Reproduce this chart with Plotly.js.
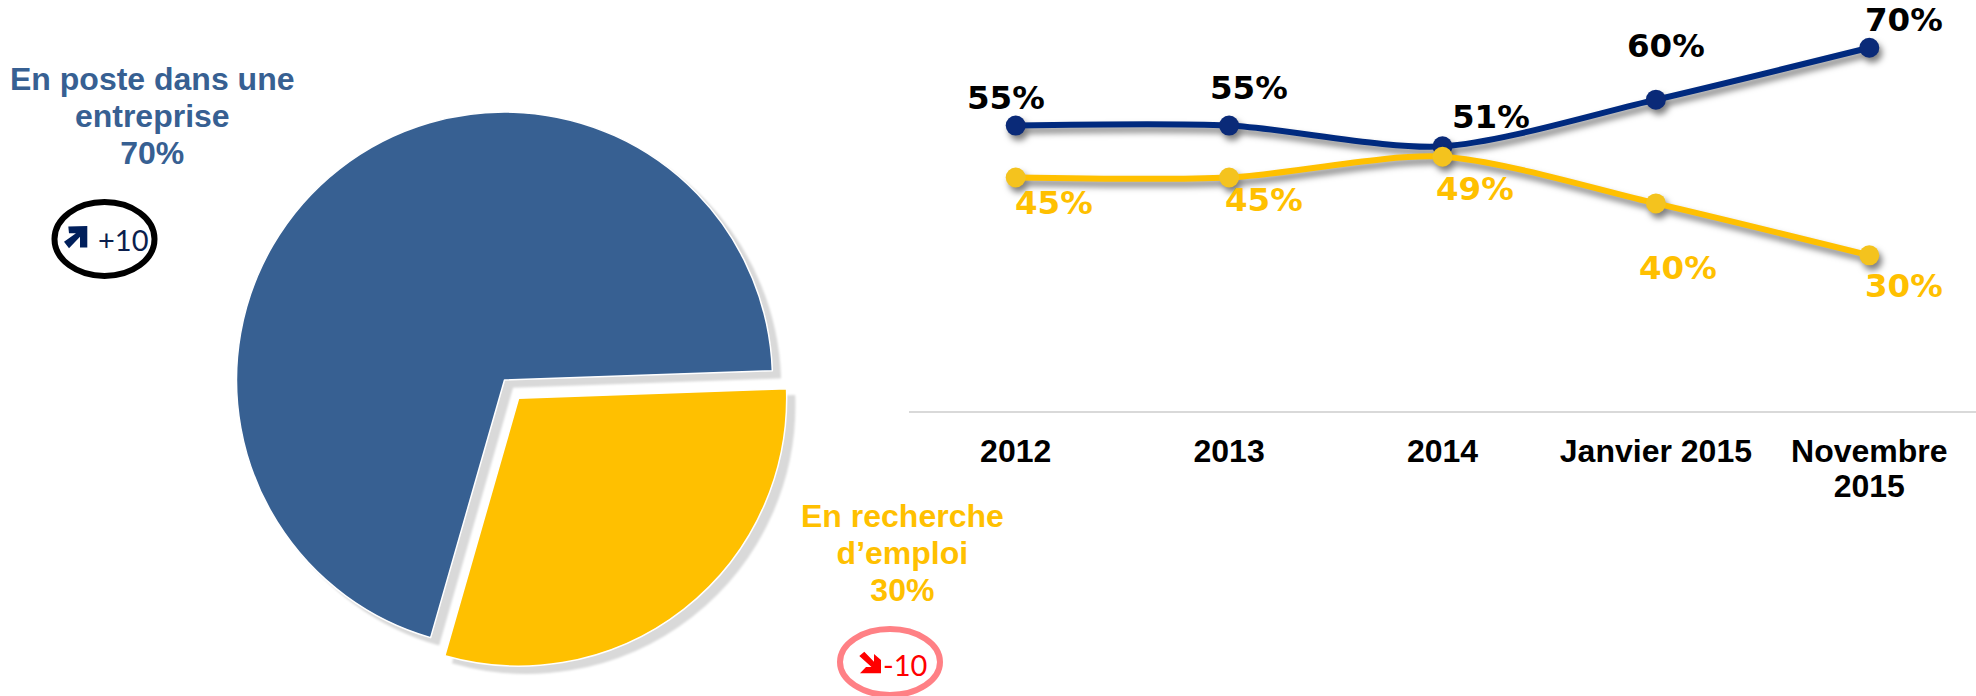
<!DOCTYPE html>
<html><head><meta charset="utf-8">
<script src="https://cdn.plot.ly/plotly-3.0.1.min.js"></script>
<style>html,body{margin:0;padding:0;background:#fff}#chart{width:1976px;height:696px}</style>
</head><body><div id="chart"></div>
<script>
// ----- data -----
const pieLabels = ["En poste dans une entreprise", "En recherche d’emploi"];
const pieValues = [70, 30];
const categories = ["2012", "2013", "2014", "Janvier 2015", "Novembre<br>2015"];
const enPoste = [55, 55, 51, 60, 70];
const enRecherche = [45, 45, 49, 40, 30];

// ----- page geometry -----
const W = 1976, H = 696;
const px = x => x / W;
const py = y => 1 - y / H;
const pieCx = 504.5, pieCy = 380, pieR = 268, piePull = 0.086;
const pieHalf = pieR * (1 + piePull);
const blue = "#376092", gold = "#FFC000", navy = "#002A7F";

const blueShift = [[-10,-28],[20,-38],[48,-29],[10,-54],[35,-28]];
const goldShift = [[38,26],[35,23],[32,32],[22,65],[35,31]];

function valueLabels(vals, shifts, color) {
  return vals.map((v, i) => ({
    xref: "x", yref: "y", x: i, y: v, text: v + "%", showarrow: false,
    xanchor: "center", yanchor: "middle",
    xshift: shifts[i][0], yshift: -shifts[i][1],
    font: {family: "DejaVu Sans", size: 32.5, color: color, weight: 700}
  }));
}
function pageText(x, y, text, color, size, family, weight) {
  return {xref: "paper", yref: "paper", x: px(x), y: py(y), text, showarrow: false,
    xanchor: "center", yanchor: "middle", align: "center",
    font: {family, size, color, weight}};
}
function oval(cx, cy, rx, ry, color, width) {
  return {type: "circle", xref: "paper", yref: "paper",
    x0: px(cx - rx), x1: px(cx + rx), y0: py(cy + ry), y1: py(cy - ry),
    line: {color, width}, fillcolor: "rgba(0,0,0,0)"};
}
function poly(points, color) {
  const d = points.map((p, i) => (i ? "L" : "M") + px(p[0]) + "," + py(p[1])).join(" ") + " Z";
  return {type: "path", xref: "paper", yref: "paper", path: d, fillcolor: color, line: {width: 0}};
}
const upArrow = [[68.3,226.5],[87.3,226],[87.3,247.5],[80,247.5],[80,236.7],[69,248.3],[64,241.7],[76,233.3],[69,233.3]];
const downArrow = [[859.3,656],[864.3,651.7],[874,661.7],[874,654],[881,660],[881,673.3],[860,673.3],[866,667],[871.5,667]];

const traces = [
  {type: "pie", labels: pieLabels, values: pieValues, sort: false, direction: "clockwise",
   rotation: 196, pull: [0, piePull], textinfo: "none", showlegend: false, hoverinfo: "label+percent",
   marker: {colors: [blue, gold], line: {color: "#ffffff", width: 1.5}},
   domain: {x: [px(pieCx - pieHalf), px(pieCx + pieHalf)], y: [py(pieCy + pieHalf), py(pieCy - pieHalf)]}},
  {type: "scatter", mode: "lines+markers", x: [0,1,2,3,4], y: enPoste, name: "En poste",
   line: {color: navy, width: 6, shape: "spline", smoothing: 0.8},
   marker: {color: "#0A2A78", size: 20}, showlegend: false},
  {type: "scatter", mode: "lines+markers", x: [0,1,2,3,4], y: enRecherche, name: "En recherche",
   line: {color: gold, width: 6, shape: "spline", smoothing: 0.8},
   marker: {color: "#F4C31E", size: 20}, showlegend: false}
];

const layout = {
  width: W, height: H, margin: {l: 0, r: 0, t: 0, b: 0}, autosize: false,
  paper_bgcolor: "#fff", plot_bgcolor: "rgba(0,0,0,0)", showlegend: false,
  xaxis: {domain: [px(909), 1], range: [-0.5, 4.5], tickmode: "array", tickvals: [0,1,2,3,4],
    ticktext: categories, showgrid: false, zeroline: false, showline: true,
    linecolor: "#D9D9D9", linewidth: 2, ticks: "", fixedrange: true, ticklabelstandoff: 11,
    tickfont: {family: "Liberation Sans", size: 32, color: "#000", weight: 700}},
  yaxis: {domain: [py(411), 1], range: [0, 79.2], visible: false, fixedrange: true},
  shapes: [oval(104.5, 239, 50, 37, "#000000", 6), oval(890, 662, 50, 33, "#FF8085", 6),
           poly(upArrow, "#001F5B"), poly(downArrow, "#FF0000")],
  annotations: [
    ...valueLabels(enPoste, blueShift, "#000000"),
    ...valueLabels(enRecherche, goldShift, gold),
    pageText(152, 121, "En poste dans une<br>entreprise<br>70%", blue, 32, "Liberation Sans", 700),
    pageText(902, 557, "En recherche<br>d’emploi<br>30%", gold, 32, "Liberation Sans", 700),
    pageText(123, 239, "+10", "#0B1F4D", 29, "Lato", 400),
    pageText(905, 664, "-10", "#FF0000", 29, "Lato", 400)
  ]
};

Plotly.newPlot("chart", traces, layout, {displayModeBar: false, staticPlot: true}).then(() => {
  document.querySelectorAll(".slice path.surface").forEach(p => {
    p.style.filter = "drop-shadow(8px 7px 1px #D9D9D9)";
  });
  document.querySelectorAll(".scatterlayer .trace").forEach(t => {
    t.style.filter = "drop-shadow(3px 5px 3px rgba(0,0,0,0.5))";
  });
  document.querySelectorAll("tspan.line").forEach(t => {
    const m = /([\d.]+)em/.exec(t.getAttribute("dy") || "");
    const isTick = !!t.closest(".xtick");
    if (m) t.setAttribute("dy", (parseFloat(m[1]) * (isTick ? 1.08 : 1.15) / 1.3) + "em");
  });
});
</script></body></html>
